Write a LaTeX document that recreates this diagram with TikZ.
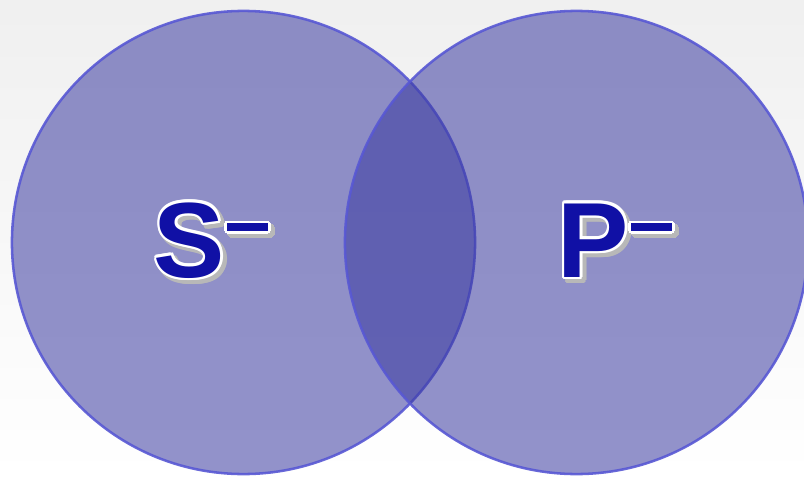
\documentclass[tikz,border=0pt]{standalone}
\usepackage{fontspec}
\setmainfont{Liberation Sans}
\usepackage{contour}
\usepackage{tikz}
\usetikzlibrary{positioning}

\definecolor{setfill}{RGB}{58,58,160}
\definecolor{setrim}{RGB}{88,88,212}
\definecolor{letterblue}{RGB}{16,16,165}
\contournumber{12}

% raised bar after the letter
\newcommand{\minusbar}{\hspace{1.2pt}\rule[32.5pt]{29.5pt}{5.7pt}}
% letter with white rim and soft shadow
\newcommand{\setname}[1]{%
  \makebox[0pt][l]{\hspace{2.5pt}\raisebox{-2.5pt}{\contourlength{2.2pt}{\color{black!28}\contour{black!28}{#1\minusbar}}}}%
  \contourlength{1.8pt}{\color{letterblue}\contour{white}{#1\minusbar}}}

\begin{document}
\begin{tikzpicture}[x=0.025cm, y=0.025cm,
    setdisc/.style={circle, minimum size=11.575cm, inner sep=0pt, fill=setfill, fill opacity=0.55, draw=setrim, draw opacity=0.9, line width=1.8pt},
    setlabel/.style={inner sep=0pt, anchor=base, font=\fontsize{76}{80}\selectfont\bfseries}
  ]
    \useasboundingbox (0,0) rectangle (804,476);
    \fill[top color=black!6, bottom color=white] (0,0) rectangle (804,476);
    \clip (0,0) rectangle (804,476);
    \node[setdisc] (sset) at (243.5,233.5) {};
    \node[setdisc] (pset) at (576.5,233.5) {};
    \node[setlabel] (slabel) at (211,199) {\setname{S}};
    \node[setlabel] (plabel) at (615,199) {\setname{P}};
  \end{tikzpicture}
\end{document}
